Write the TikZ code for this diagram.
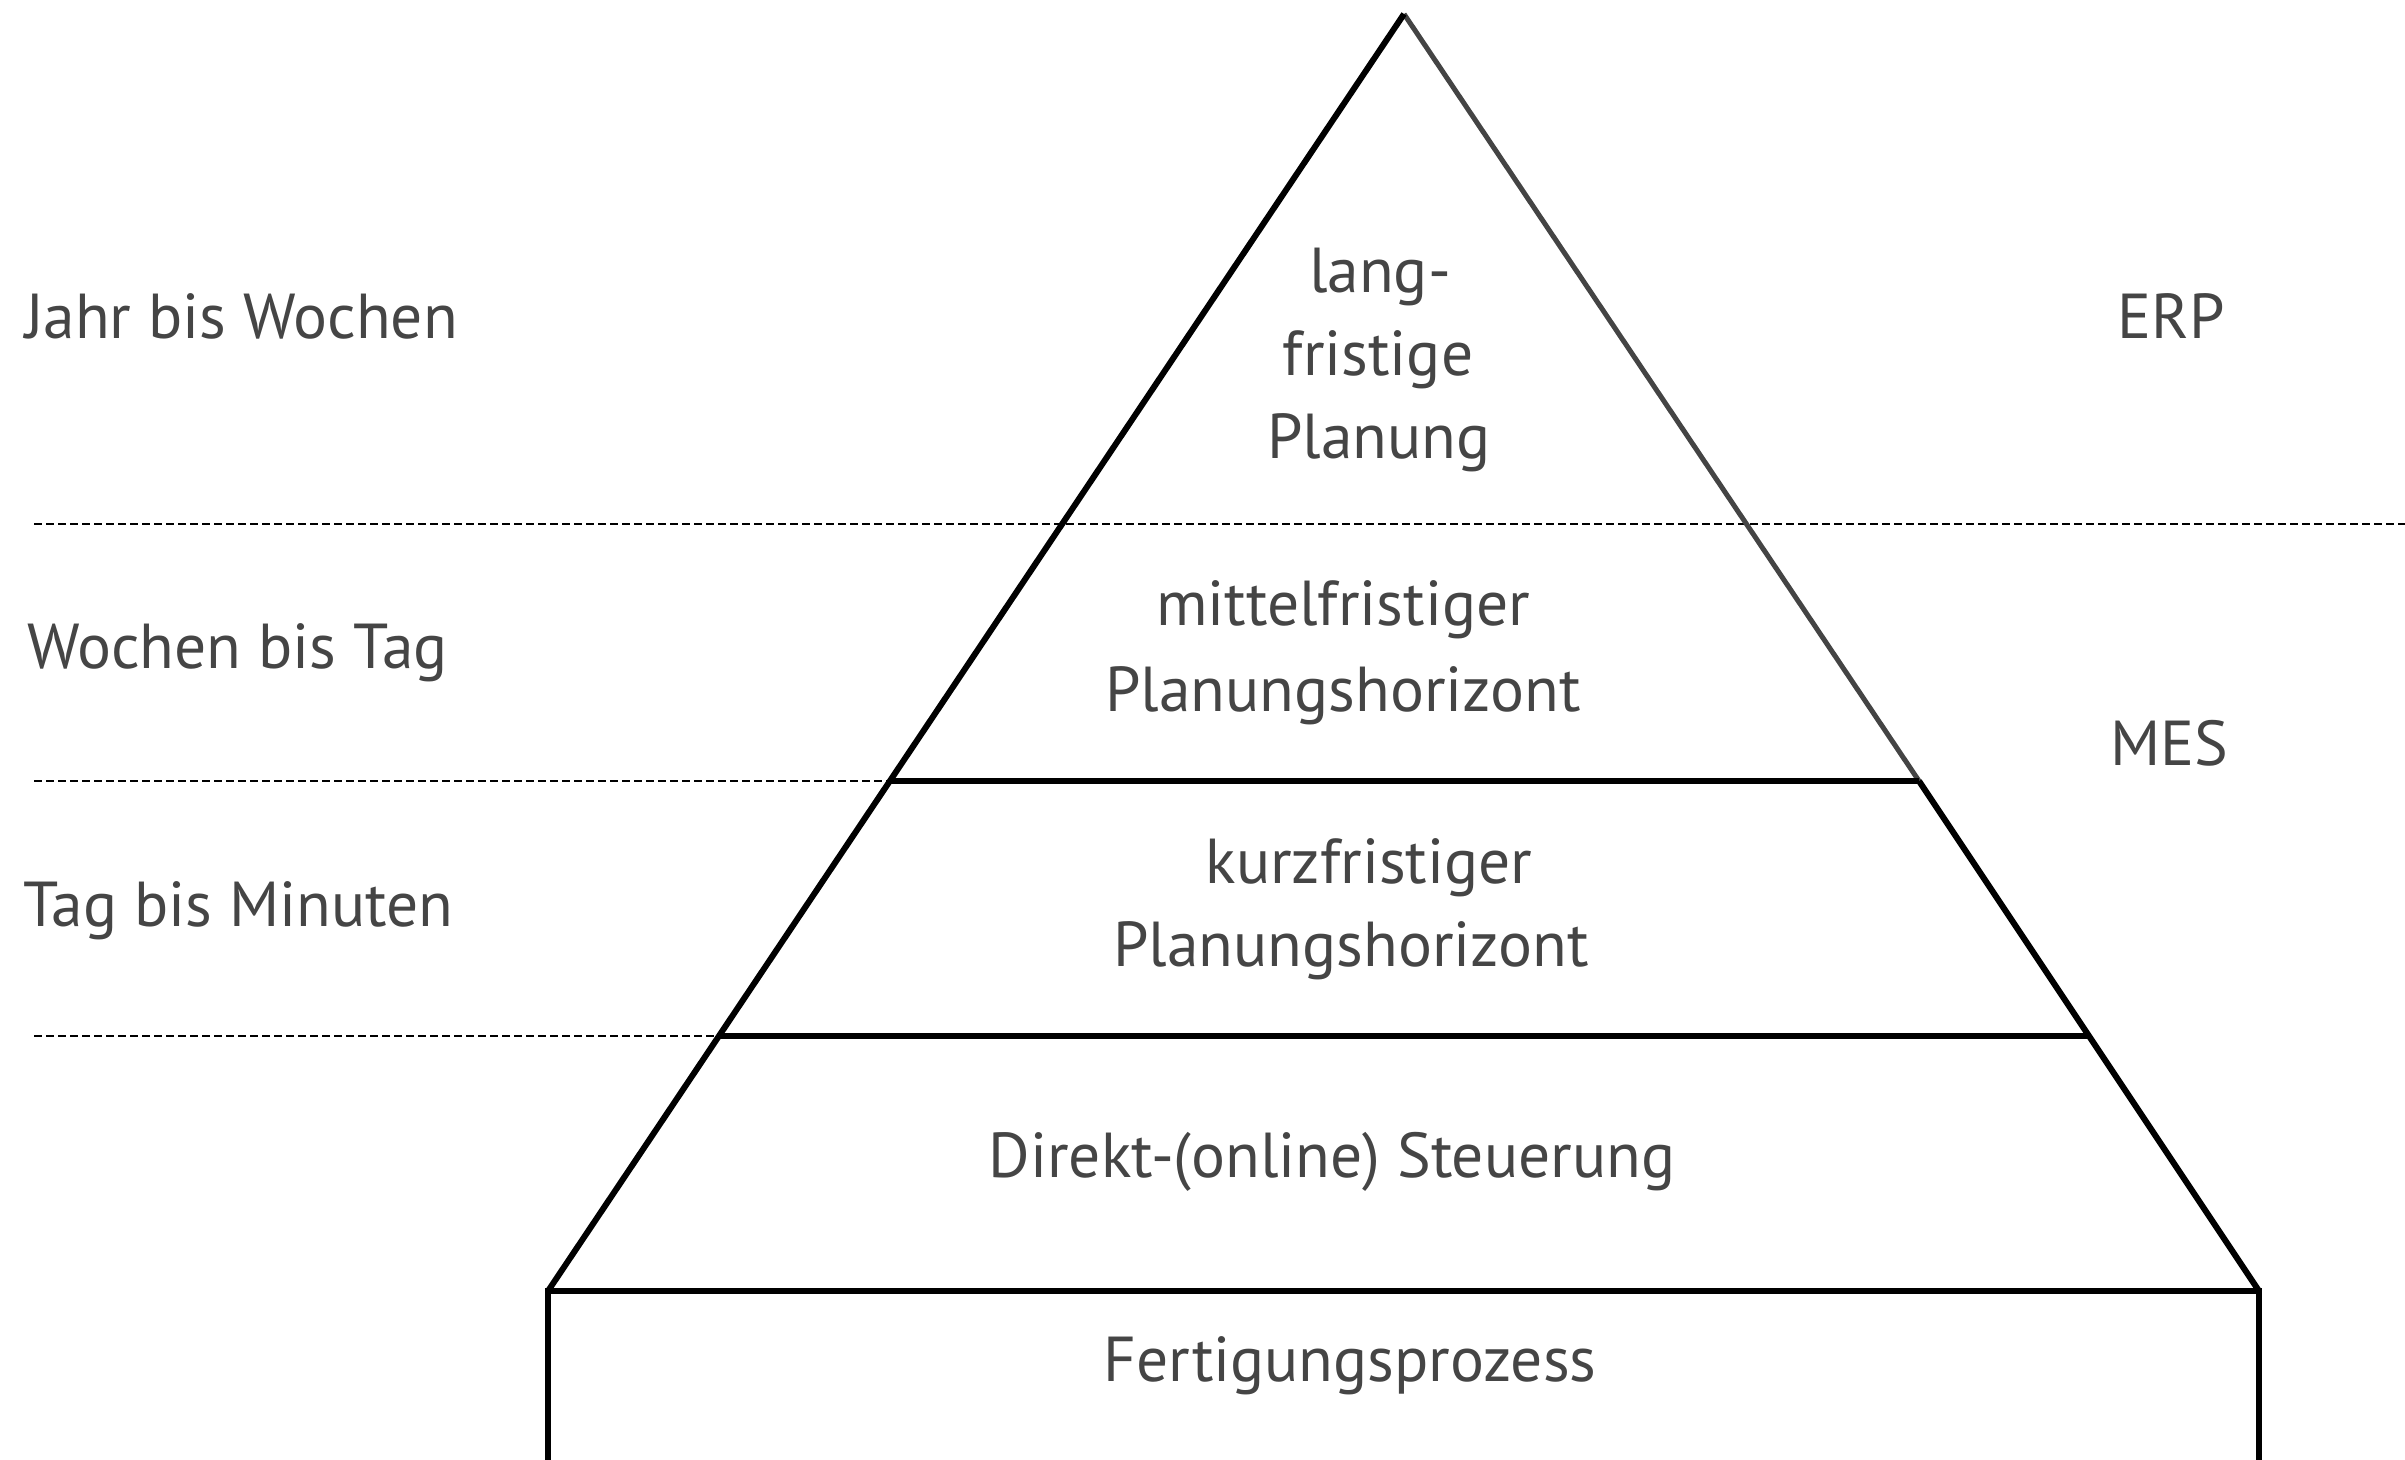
\documentclass[tikz,border=0pt]{standalone}
\usepackage{fontspec}
\setmainfont{PT Sans}
\definecolor{txt}{HTML}{454545}
\definecolor{edgegray}{HTML}{444444}
\begin{document}
\begin{tikzpicture}[x=1pt,y=-1pt,
  lbl/.style={text=txt,font=\fontsize{63.5}{80}\selectfont,inner sep=0pt,anchor=base},
  lbll/.style={lbl,anchor=base west},
  solidline/.style={line width=6pt,draw=black},
  grayline/.style={line width=5pt,draw=edgegray},
  dashline/.style={line width=2pt,draw=black,dash pattern=on 8pt off 4pt}]
\useasboundingbox (0,0) rectangle (2405,1459);
% key points
\coordinate (A) at (1404,14);
\coordinate (L1) at (890,781);
\coordinate (R1) at (1919,781);
\coordinate (L2) at (719,1036);
\coordinate (R2) at (2089,1036);
\coordinate (L3) at (548,1291);
\coordinate (R3) at (2259,1291);
\coordinate (B1) at (548,1470);
\coordinate (B2) at (2259,1470);
\coordinate (D0s) at (34,524);
\coordinate (D0e) at (2410,524);
\coordinate (D1s) at (34,781);
\coordinate (D2s) at (34,1036);
% dashed separators
\draw[dashline] (D0s) -- (D0e);
\draw[dashline] (D1s) -- (L1);
\draw[dashline] (D2s) -- (L2);
% pyramid
\draw[grayline] (A) -- (R1);
\draw[solidline] (R1) -- (R3);
\draw[solidline,line join=miter] (A) -- (L3);
\draw[solidline] (L1) -- (R1);
\draw[solidline] (L2) -- (R2);
\draw[solidline] (B1) -- (L3) -- (R3) -- (B2);
% left labels
\node[lbll] (jahr) at (25,338) {Jahr bis Wochen};
\node[lbll] (woch) at (27,668) {Wochen bis Tag};
\node[lbll] (tagm) at (23,926) {Tag bis Minuten};
% right labels
\node[lbl] (erp) at (2171,338) {ERP};
\node[lbl] (mes) at (2169,765) {MES};
% pyramid labels
\node[lbl] (t1a) at (1380,292) {lang-};
\node[lbl] (t1b) at (1378,375) {fristige};
\node[lbl] (t1c) at (1379,458) {Planung};
\node[lbl] (t2a) at (1343,625) {mittelfristiger};
\node[lbl] (t2b) at (1343,711) {Planungshorizont};
\node[lbl] (t3a) at (1369,883) {kurzfristiger};
\node[lbl] (t3b) at (1351,966) {Planungshorizont};
\node[lbl] (t4) at (1332,1177) {Direkt-(online) Steuerung};
\node[lbl] (t5) at (1350,1381) {Fertigungsprozess};
\end{tikzpicture}
\end{document}
